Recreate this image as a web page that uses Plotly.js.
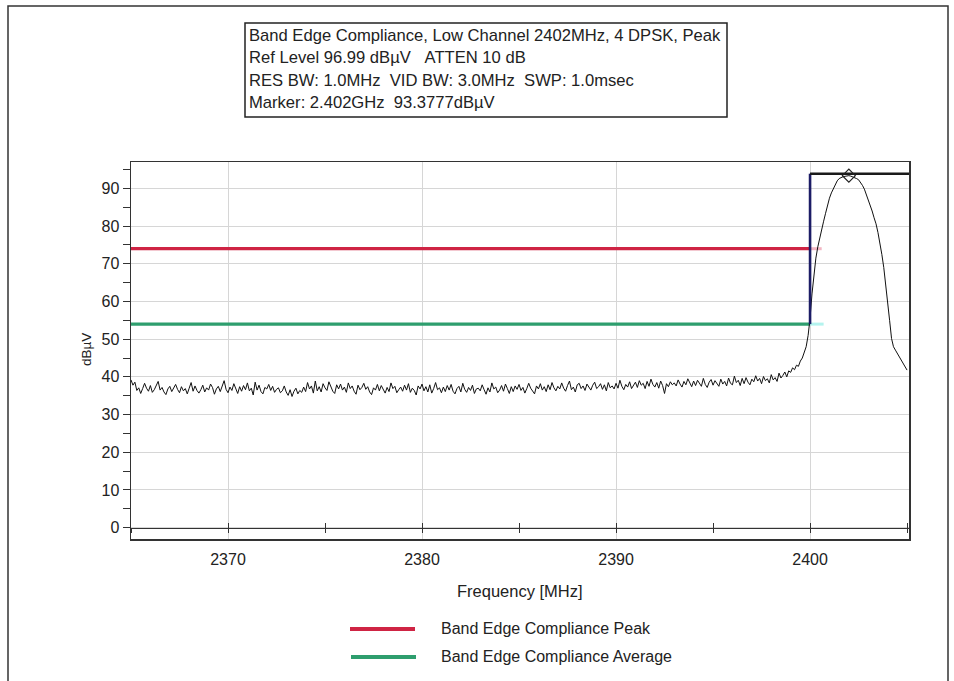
<!DOCTYPE html>
<html>
<head>
<meta charset="utf-8">
<script src="https://cdn.plot.ly/plotly-3.0.1.min.js"></script>
<style>
  html, body { margin: 0; padding: 0; background: #ffffff; }
  #chart { width: 954px; height: 681px; }
</style>
</head>
<body>
<div id="chart"></div>
<script>
// ---- Data ----
const sweepStartMHz = 2365;
const sweepStepMHz = 0.1;
const traceLevel = [
  39.2, 37.8, 38.6, 36.4, 37.1, 35.6, 36.9, 38.3, 37.0, 36.2, 37.7, 35.9, 36.6, 37.9, 38.8, 36.5, 37.2, 36.0, 35.3, 36.8,
  37.5, 36.1, 37.3, 38.0, 36.7, 35.8, 37.4, 36.3, 36.9, 35.5, 37.0, 38.5, 36.2, 37.6, 36.4, 35.7, 36.6, 37.8, 36.0, 37.1,
  36.5, 38.1, 37.2, 35.4, 36.8, 37.5, 36.1, 37.9, 39.0, 36.7, 35.8, 37.3, 36.4, 38.2, 36.9, 35.6, 37.4, 36.2, 37.7, 36.6,
  38.4, 36.3, 37.0, 35.2, 38.6, 36.5, 37.8, 36.1, 35.5, 37.2, 36.8, 38.0, 36.4, 37.5, 35.9, 36.7, 37.1, 35.8, 36.3, 37.6,
  36.0, 35.1, 36.6, 34.8, 36.2, 37.0, 35.5, 36.4, 35.9, 37.3, 36.1, 38.5, 36.8, 37.6, 35.7, 38.9, 36.3, 37.4, 36.0, 38.2,
  37.1, 36.4, 38.7, 37.5, 36.2, 35.6, 37.9, 36.8, 38.1, 36.5, 37.3, 35.9, 38.4, 36.9, 37.6, 36.2, 35.4, 37.8, 36.6, 37.2,
  38.3, 36.7, 37.4, 36.0, 35.3, 37.1, 36.5, 38.0, 36.3, 37.7, 36.8, 35.7, 37.2, 36.1, 38.4, 36.9, 37.5, 35.8, 36.6, 37.3,
  36.2, 37.8, 36.5, 38.2, 35.9, 37.0, 36.4, 35.2, 37.6, 36.8, 38.1, 36.3, 37.4, 36.0, 37.9, 35.7, 36.9, 38.5, 36.6, 37.1,
  35.8, 37.3, 36.1, 37.7, 36.5, 38.0, 36.2, 35.5, 36.9, 37.5, 36.0, 38.3, 36.7, 35.9, 37.2, 36.4, 37.8, 35.6, 36.8, 37.0,
  36.3, 37.9, 36.6, 35.4, 37.1, 36.0, 38.4, 36.8, 37.3, 35.8, 36.5, 37.7, 36.2, 38.1, 36.9, 35.6, 37.4, 36.1, 37.6, 36.7,
  38.0, 36.4, 37.2, 35.7, 36.9, 38.3, 37.0, 36.2, 35.5, 37.6, 36.8, 38.2, 36.5, 37.4, 36.1, 37.9, 36.6, 38.5, 37.1, 36.3,
  37.5, 36.8, 38.4, 37.0, 36.2, 37.7, 38.9, 36.6, 37.3, 36.0, 37.9, 38.3, 36.9, 37.6, 36.4, 38.1, 37.2, 36.5, 37.8, 38.6,
  36.9, 37.4, 38.2, 36.7, 37.9, 36.3, 38.5, 37.1, 37.6, 36.8, 38.3, 37.0, 39.1, 37.5, 36.6, 38.0, 37.3, 38.7, 36.9, 37.8,
  38.6, 37.2, 39.0, 37.8, 38.3, 36.9, 38.8, 37.5, 39.4, 38.0, 37.3, 38.5, 37.0, 38.9, 37.7, 35.6, 38.2, 37.4, 38.7, 37.9,
  38.4, 37.6, 39.2, 38.1, 37.3, 38.8, 37.9, 39.5, 38.2, 37.4, 38.9, 37.7, 39.1, 38.3, 37.5, 39.6, 38.0, 37.2, 38.6, 39.3,
  37.8, 39.0, 38.4, 37.5, 39.4, 38.1, 38.8, 37.6, 39.7, 38.3, 37.9, 40.2, 38.5, 39.1, 37.7, 39.6, 38.2, 39.8, 38.6, 37.9,
  39.4, 38.7, 40.3, 38.9, 39.6, 38.2, 40.1, 39.0, 39.5, 38.4, 40.6, 39.2, 39.8, 38.8, 41.0, 39.7, 40.4, 41.3, 40.0, 41.6,
  41.2, 42.4, 41.9, 43.1, 42.8, 44.2, 45.0, 46.3, 48.0, 51.0,
  55.5, 62.0, 67.5, 71.5, 74.5, 77.0, 79.2, 81.3, 83.4, 85.6,
  87.4, 88.8, 90.0, 91.2, 92.0, 92.6, 92.9, 93.1, 93.2, 93.3,
  93.38, 93.25, 93.1, 92.9, 92.6, 92.3, 91.7, 90.8, 89.8, 88.4,
  86.8, 85.5, 84.0, 82.2, 80.6, 78.3, 75.8, 72.5, 69.0, 64.8,
  60.3, 55.0, 50.2, 48.0, 47.1, 46.2, 45.3, 44.6, 43.5, 42.9,
  41.8
];
const traceFreq = traceLevel.map((_, i) => +(sweepStartMHz + i * sweepStepMHz).toFixed(2));

const peakLimitFreq = [2365, 2400];
const peakLimitLevel = [74, 74];
const peakLimitTailFreq = [2400, 2400.6];
const peakLimitTailLevel = [74, 74];

const avgLimitFreq = [2365, 2400];
const avgLimitLevel = [54, 54];
const avgLimitTailFreq = [2400, 2400.7];
const avgLimitTailLevel = [54, 54];

const edgeFreq = [2400, 2400];
const edgeLevel = [54, 93.9];
const refFreq = [2400, 2405.1];
const refLevel = [93.9, 93.9];

const markerFreq = [2402];
const markerLevel = [93.3777];

const infoLines = [
  'Band Edge Compliance, Low Channel 2402MHz, 4 DPSK, Peak',
  'Ref Level 96.99 dBµV &nbsp;&nbsp;ATTEN 10 dB',
  'RES BW: 1.0MHz &nbsp;VID BW: 3.0MHz &nbsp;SWP: 1.0msec',
  'Marker: 2.402GHz &nbsp;93.3777dBµV'
];
const legendNames = ['Band Edge Compliance Peak', 'Band Edge Compliance Average'];
const xTitle = 'Frequency [MHz]';
const yTitle = 'dBµV';

// ---- Styling ----
const FONT = '"Liberation Sans", Arial, sans-serif';
const TXT = '#222222';
const RED = '#cf2444';
const GREEN = '#2e9e6e';
const GRID = '#d6d6d6';
const AX = '#333333';

// pixel -> paper helpers (plot area: x 131..909, y 162..539)
const L = 131, R = 909, T = 162, B = 539;
const px = v => (v - L) / (R - L);
const py = v => (B - v) / (B - T);

const traces = [
  { x: peakLimitTailFreq, y: peakLimitTailLevel, mode: 'lines', line: { color: '#f2b6c3', width: 3 }, hoverinfo: 'skip' },
  { x: avgLimitTailFreq, y: avgLimitTailLevel, mode: 'lines', line: { color: '#b4f3ee', width: 3 }, hoverinfo: 'skip' },
  { x: peakLimitFreq, y: peakLimitLevel, mode: 'lines', name: legendNames[0], line: { color: RED, width: 3.2 } },
  { x: avgLimitFreq, y: avgLimitLevel, mode: 'lines', name: legendNames[1], line: { color: GREEN, width: 3.2 } },
  { x: traceFreq, y: traceLevel, mode: 'lines', line: { color: '#111111', width: 1 } },
  { x: edgeFreq, y: edgeLevel, mode: 'lines', line: { color: '#1c1c66', width: 2.6 } },
  { x: refFreq, y: refLevel, mode: 'lines', line: { color: '#1a1a1a', width: 2.6 } },
  { x: markerFreq, y: markerLevel, xaxis: 'x2', mode: 'markers',
    marker: { symbol: 'diamond-open', size: 10, color: '#222', line: { width: 1.2, color: '#222' } } },
  { x: [], y: [], xaxis: 'x3', mode: 'lines' }
];

const xRange = [2365, 2405.1];
const yRange = [-3, 97];
const zeroPos = (0 - yRange[0]) / (yRange[1] - yRange[0]);

const annotations = [];
infoLines.forEach((t, i) => {
  annotations.push({ xref: 'paper', yref: 'paper', x: px(247), y: py(36 + i * 22),
    xanchor: 'left', yanchor: 'middle', text: t, showarrow: false,
    font: { family: FONT, size: 16.6, color: TXT } });
});
annotations.push({ xref: 'paper', yref: 'paper', x: px(520), y: py(591), xanchor: 'center', yanchor: 'middle',
  text: xTitle, showarrow: false, font: { family: FONT, size: 16.5, color: TXT } });
annotations.push({ xref: 'paper', yref: 'paper', x: px(86), y: py(350), xanchor: 'center', yanchor: 'middle',
  text: yTitle, textangle: -90, showarrow: false, font: { family: FONT, size: 13.5, color: TXT } });
annotations.push({ xref: 'paper', yref: 'paper', x: px(439), y: py(628), xanchor: 'left', yanchor: 'middle',
  text: legendNames[0], showarrow: false, font: { family: FONT, size: 16, color: TXT } });
annotations.push({ xref: 'paper', yref: 'paper', x: px(439), y: py(656), xanchor: 'left', yanchor: 'middle',
  text: legendNames[1], showarrow: false, font: { family: FONT, size: 16, color: TXT } });

const shapes = [
  // outer frame
  { type: 'rect', xref: 'paper', yref: 'paper', x0: px(8), x1: px(948), y0: py(700), y1: py(6),
    line: { color: '#333', width: 1.5 }, fillcolor: 'rgba(0,0,0,0)' },
  // info box
  { type: 'rect', xref: 'paper', yref: 'paper', x0: px(245), x1: px(727), y0: py(117), y1: py(23),
    line: { color: '#222', width: 1.5 }, fillcolor: 'rgba(0,0,0,0)' },
  // legend samples
  { type: 'line', xref: 'paper', yref: 'paper', x0: px(350), x1: px(415), y0: py(629), y1: py(629),
    line: { color: RED, width: 4 } },
  { type: 'line', xref: 'paper', yref: 'paper', x0: px(351), x1: px(416), y0: py(657), y1: py(657),
    line: { color: GREEN, width: 4 } }
];

const layout = {
  width: 954, height: 681,
  margin: { l: L, r: 954 - R, t: T, b: 681 - B, pad: 0 },
  paper_bgcolor: '#ffffff', plot_bgcolor: '#ffffff',
  showlegend: false,
  font: { family: FONT, size: 16, color: TXT },
  xaxis: {
    range: xRange, tick0: 2370, dtick: 10, ticks: '', showgrid: true, gridcolor: GRID, gridwidth: 1,
    zeroline: false, showline: true, mirror: true, linecolor: AX, linewidth: 1.5,
    ticklabelstandoff: 5, tickfont: { family: FONT, size: 16, color: TXT }
  },
  xaxis2: {
    range: xRange, overlaying: 'x', anchor: 'free', position: zeroPos, side: 'bottom',
    showline: true, linecolor: AX, linewidth: 1.5, ticks: 'inside', ticklen: 5, tickwidth: 1, tickcolor: AX,
    tick0: 2365, dtick: 5, showticklabels: false, showgrid: false, zeroline: false
  },
  xaxis3: {
    range: xRange, overlaying: 'x', anchor: 'free', position: zeroPos, side: 'bottom',
    showline: false, ticks: 'outside', ticklen: 4, tickwidth: 1, tickcolor: AX,
    tick0: 2365, dtick: 5, showticklabels: false, showgrid: false, zeroline: false
  },
  yaxis: {
    range: yRange, tick0: 0, dtick: 10, ticks: 'outside', ticklen: 7, tickwidth: 1, tickcolor: AX,
    minor: { dtick: 5, tick0: 0, ticks: 'outside', ticklen: 7, tickwidth: 1, tickcolor: AX, showgrid: false },
    showgrid: true, gridcolor: GRID, gridwidth: 1, zeroline: false,
    showline: true, mirror: true, linecolor: AX, linewidth: 1.5,
    tickfont: { family: FONT, size: 16, color: TXT }
  },
  annotations: annotations,
  shapes: shapes
};

Plotly.newPlot('chart', traces, layout, { displayModeBar: false, staticPlot: true });
</script>
</body>
</html>
